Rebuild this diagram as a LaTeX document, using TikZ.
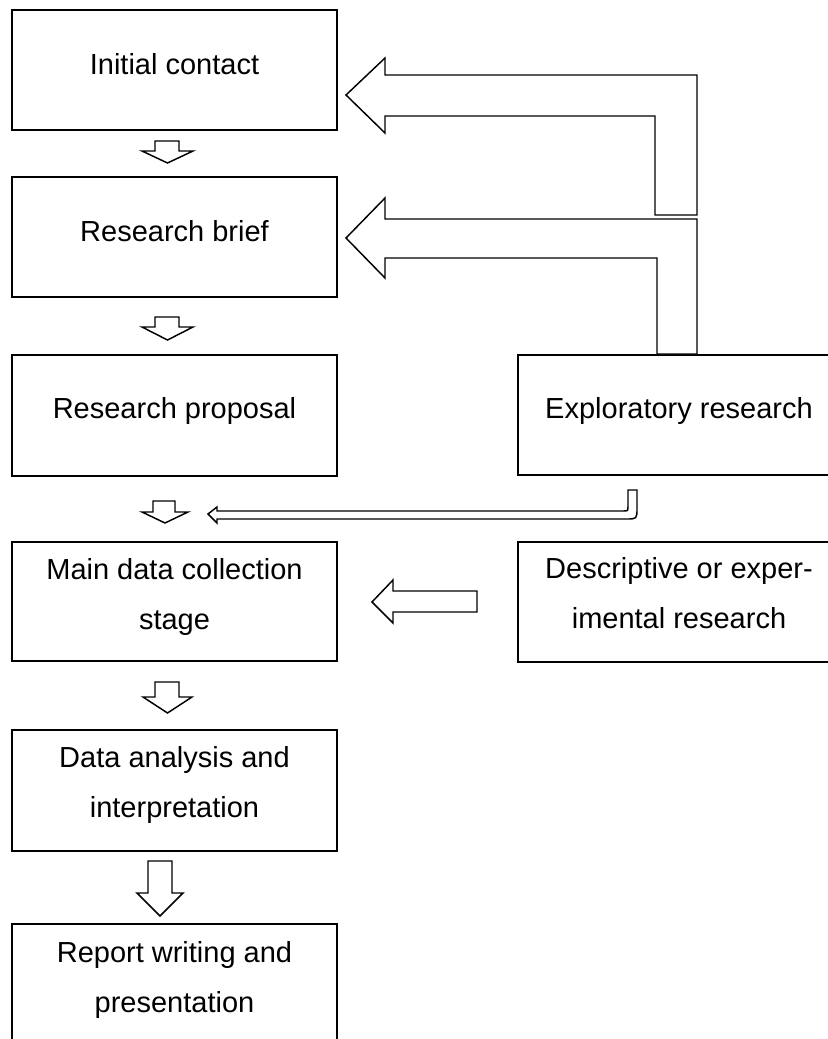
\documentclass[tikz,border=0pt]{standalone}
\usepackage{fontspec}
\setmainfont{Liberation Sans}
\begin{document}
\begin{tikzpicture}[x=0.75pt,y=-0.75pt,
  box/.style={draw,line width=1.3pt,inner sep=0pt},
  leftbox/.style={box,minimum width=243.75pt},
  rightbox/.style={box,minimum width=255pt,minimum height=90pt},
  blockarrow/.style={draw,line width=1.1pt,fill=white,line join=miter},
  lbl/.style={font=\fontsize{21.75}{37.5}\selectfont,align=center,anchor=base,inner sep=0pt}]
\useasboundingbox (0,0) rectangle (828,1039);
\clip (0,0) rectangle (828,1039);

% stage boxes (left column)
\node[leftbox,minimum height=90pt]    (contact)   at (174.5,70)    {};
\node[leftbox,minimum height=90pt]    (brief)     at (174.5,237)   {};
\node[leftbox,minimum height=90.75pt] (proposal)  at (174.5,415.5) {};
\node[leftbox,minimum height=89.25pt] (collect)   at (174.5,601.5) {};
\node[leftbox,minimum height=90.75pt] (analysis)  at (174.5,790.5) {};
\node[leftbox,minimum height=102pt]   (report)    at (174.5,992)   {};

% research types (right column, running past the page edge)
\node[rightbox] (explore)  at (688,415) {};
\node[rightbox] (describe) at (688,602) {};

% labels (base anchor sits on the last line)
\node[lbl] (tcontact)  at (174.5,74)   {Initial contact};
\node[lbl] (tbrief)    at (174.5,241)  {Research brief};
\node[lbl] (tproposal) at (174.5,418)  {Research proposal};
\node[lbl] (tcollect)  at (174.5,629)  {Main data collection\\stage};
\node[lbl] (tanalysis) at (174.5,817)  {Data analysis and\\interpretation};
\node[lbl] (treport)   at (174.5,1012) {Report writing and\\presentation};
\node[lbl] (texplore)  at (679,418)    {Exploratory research};
\node[lbl] (tdescribe) at (679,628)    {Descriptive or exper-\\imental research};

% down arrows between stages
\draw[blockarrow] (142,151) -- (155,151) -- (155,141) -- (179,141) -- (179,151) -- (193,151) -- (167.5,163) -- cycle;
\draw[blockarrow] (142,327) -- (155,327) -- (155,317) -- (179,317) -- (179,327) -- (193,327) -- (167.5,340) -- cycle;
\draw[blockarrow] (142,512) -- (153,512) -- (153,501) -- (175,501) -- (175,512) -- (188,512) -- (165,523) -- cycle;
\draw[blockarrow] (143,697) -- (155,697) -- (155,682) -- (179,682) -- (179,697) -- (192,697) -- (167.5,713) -- cycle;
\draw[blockarrow] (137,893) -- (148,893) -- (148,861) -- (172,861) -- (172,893) -- (183,893) -- (160,916) -- cycle;

% feedback from exploratory research
\draw[blockarrow] (346,95) -- (385,58) -- (385,75) -- (697,75) -- (697,215) -- (655,215) -- (655,116) -- (385,116) -- (385,133) -- cycle;
\draw[blockarrow] (346,238) -- (385,198) -- (385,219) -- (697,219) -- (697,354) -- (657,354) -- (657,258) -- (385,258) -- (385,278) -- cycle;

% thin hooked arrow towards the data collection stage
\draw[blockarrow] (208,514) -- (217,507) -- (217,511) -- (623,511) .. controls (628,511) .. (628,506) -- (628,490) -- (637,490) -- (637,508) .. controls (637,519) .. (626,519) -- (217,519) -- (217,523) -- cycle;

% arrow from descriptive or experimental research
\draw[blockarrow] (372,602) -- (393,580) -- (393,591) -- (477,591) -- (477,612) -- (393,612) -- (393,623) -- cycle;
\end{tikzpicture}
\end{document}
